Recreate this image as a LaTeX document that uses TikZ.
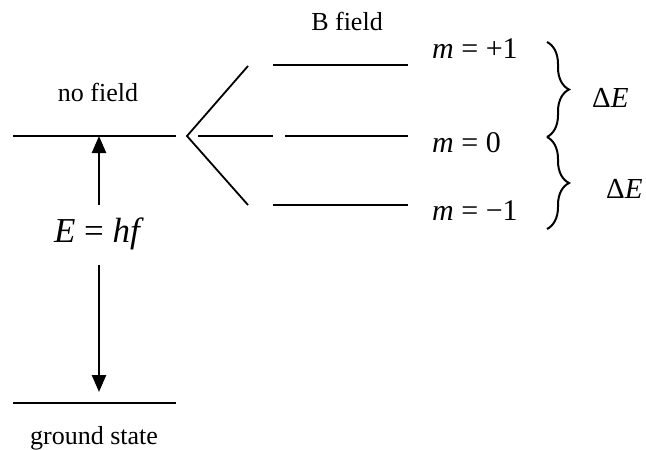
\documentclass[tikz,border=0pt]{standalone}
\usepackage{fontspec}
\setmainfont{Liberation Serif}
\usetikzlibrary{arrows.meta,decorations.pathreplacing}
\begin{document}
\begin{tikzpicture}[x=1pt,y=-1pt,
  level/.style={line width=1.8pt},
  branch/.style={line width=1.8pt},
  energyarrow/.style={line width=2.6pt,-{Triangle[length=17pt,width=14pt]}},
  lbl/.style={font=\fontsize{26}{30}\selectfont,inner sep=0pt},
  mlbl/.style={font=\fontsize{30}{34}\selectfont,inner sep=0pt,anchor=west},
  bigmath/.style={font=\fontsize{35}{40}\selectfont,inner sep=0pt},
  dlbl/.style={font=\fontsize{29}{32}\selectfont,inner sep=0pt,anchor=west},
  bracebr/.style={line width=2pt,decorate,decoration={brace,amplitude=22pt}}]
\useasboundingbox (0,0) rectangle (646,450);
% coordinates
\coordinate (nf1) at (13,136);
\coordinate (nf2) at (176,136);
\coordinate (v) at (187,136);
\coordinate (bu) at (248,66);
\coordinate (bd) at (248,205);
\coordinate (mid1) at (198,136);
\coordinate (mid2) at (273,136);
\coordinate (p1a) at (273,65);
\coordinate (p1b) at (408,65);
\coordinate (p0a) at (285,136);
\coordinate (p0b) at (408,136);
\coordinate (m1a) at (273,205);
\coordinate (m1b) at (408,205);
\coordinate (g1) at (13,403);
\coordinate (g2) at (176,403);
\coordinate (upstart) at (99,205);
\coordinate (uptip) at (99,136);
\coordinate (dnstart) at (99,265);
\coordinate (dntip) at (99,392);
\coordinate (br1t) at (547,42);
\coordinate (br1b) at (547,137);
\coordinate (br2t) at (547,137);
\coordinate (br2b) at (547,229);
% levels
\draw[level] (nf1) -- (nf2);
\draw[level] (g1) -- (g2);
\draw[branch] (bu) -- (v) -- (bd);
\draw[level] (mid1) -- (mid2);
\draw[level] (p1a) -- (p1b);
\draw[level] (p0a) -- (p0b);
\draw[level] (m1a) -- (m1b);
% arrows
\draw[energyarrow] (upstart) -- (uptip);
\draw[energyarrow] (dnstart) -- (dntip);
% labels
\node[lbl] (nofield) at (98,92) {no field};
\node[lbl] (bfield) at (347,21) {B field};
\node[lbl,anchor=base] (ground) at (94,444) {ground state};
\node[bigmath] (ehf) at (99,234) {\textit{E} = \textit{hf}};
\node[mlbl] (mp1) at (432,49) {\textit{m} = +1};
\node[mlbl] (m0) at (432,143) {\textit{m} = 0};
\node[mlbl] (mm1) at (432,211) {\textit{m} = −1};
% braces
\draw[bracebr] (br1t) -- (br1b);
\draw[bracebr] (br2t) -- (br2b);
\node[dlbl] (de1) at (592,98) {Δ\textit{E}};
\node[dlbl] (de2) at (606,189) {Δ\textit{E}};
\end{tikzpicture}
\end{document}
